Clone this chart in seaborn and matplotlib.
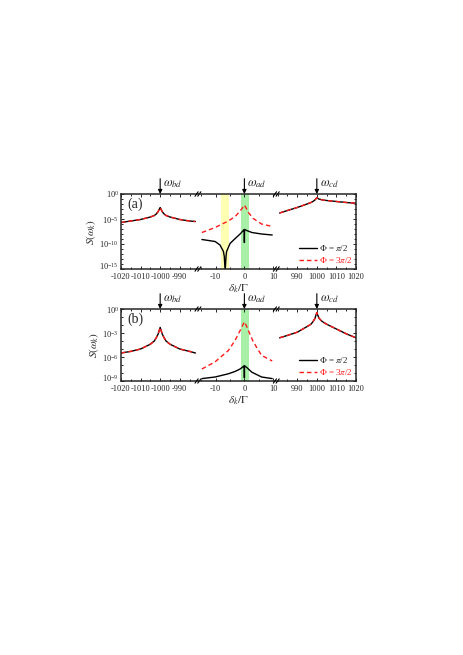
import numpy as np
import matplotlib
matplotlib.use("Agg")
import matplotlib.pyplot as plt
import matplotlib.transforms as mtransforms
import seaborn as sns
from matplotlib.ticker import FixedLocator, LogFormatterMathtext, NullFormatter

sns.set_style("ticks")
plt.rcParams["font.family"] = ["Liberation Serif", "DejaVu Serif"]
plt.rcParams["mathtext.fontset"] = "stix"
plt.rcParams["axes.unicode_minus"] = False

# ---- data: log10 S(w_k) ----
side_left_x = [-1020, -1015, -1010, -1005, -1003, -1002, -1001, -1000, -999, -998, -997, -995, -990, -985, -982]
side_right_x = [981, 985, 990, 995, 997, 998, 999, 1000, 1001, 1002, 1003, 1005, 1010, 1015, 1020]

a_left = [-5.7, -5.4, -5.1, -4.6, -4.3, -4.0, -3.5, -2.7, -3.5, -4.0, -4.3, -4.6, -5.1, -5.4, -5.5]
a_right = [-3.8, -3.3, -2.7, -2.0, -1.7, -1.5, -1.2, -0.75, -1.0, -1.1, -1.2, -1.3, -1.5, -1.7, -1.85]
b_left = [-5.5, -5.3, -5.0, -4.4, -4.0, -3.6, -3.1, -2.3, -3.1, -3.6, -4.0, -4.4, -5.0, -5.3, -5.5]
b_right = [-3.6, -3.3, -2.9, -2.2, -1.9, -1.6, -1.2, -0.45, -1.1, -1.4, -1.6, -1.9, -2.5, -3.1, -3.6]

mid_red_x = [-14.8, -10.2, -5.6, -3.2, -1.5, -0.7, 0, 0.7, 1.4, 3.1, 6.0, 9.7]
a_mid_red = [-7.7, -6.7, -5.4, -4.5, -3.4, -2.8, -2.2, -2.9, -3.7, -4.9, -6.0, -6.5]
b_mid_red = [-7.5, -6.6, -5.2, -3.9, -2.7, -2.1, -1.6, -2.1, -2.7, -4.1, -5.8, -6.5]

a_mid_blk_x = [-14.8, -10.2, -8.5, -7.3, -7.0, -6.7, -6.4, -6.2, -5.0, -3.2, -1.5, -0.05, 0, 0.05, 0.8, 2.6, 6.0, 9.7]
a_mid_blk = [-9.1, -9.5, -10.2, -11.5, -12.5, -15.5, -12.5, -11.5, -9.9, -8.9, -8.0, -7.1, -9.7, -7.1, -7.3, -7.7, -8.0, -8.2]
b_mid_blk_x = [-14.8, -10.2, -5.6, -3.2, -1.5, -0.05, 0, 0.05, 0.8, 2.6, 6.0, 9.7]
b_mid_blk = [-8.7, -8.5, -8.1, -7.8, -7.5, -7.1, -8.6, -7.1, -7.3, -7.9, -8.5, -8.7]

yellow_band = (-8.1, -5.4)
green_band = (-1.2, 1.6)

labels = [r"$\Phi$ = $\pi$/2", r"$\Phi$ = 3$\pi$/2"]

W, H = 464, 655
fig = plt.figure(figsize=(W / 100, H / 100), dpi=100)

left_px, right_px = 121, 356
seg_w = (right_px - left_px) / 3
xlims = [(-1020, -980), (-15.7, 11.6), (980, 1020)]
xticks = [[-1020, -1010, -1000, -990], [-10, 0, 10], [990, 1000, 1010, 1020]]
RED = "#ff1a1a"
FS = 6


def curve(ax, x, logy, color, dashed=False):
    sns.lineplot(x=x, y=np.power(10.0, logy), ax=ax, color=color, lw=1.0,
                 estimator=None, sort=False,
                 linestyle=(0, (3.2, 2.2)) if dashed else "-")


def panel(top_px, bot_px, left, right, mid_blk_x, mid_blk, mid_red, yexp, tag, bands):
    axs = []
    for i in range(3):
        ax = fig.add_axes([(left_px + i * seg_w) / W, 1 - bot_px / H,
                           seg_w / W, (bot_px - top_px) / H])
        ax.set_yscale("log")
        ax.set_xlim(*xlims[i])
        ax.set_ylim(10.0 ** yexp[-1], 1)
        axs.append(ax)
    a0, a1, a2 = axs

    for x0, x1, c in bands:
        a1.axvspan(x0, x1, color=c, lw=0, zorder=0)

    curve(a0, side_left_x, left, "k")
    curve(a0, side_left_x, left, RED, dashed=True)
    curve(a2, side_right_x, right, "k")
    curve(a2, side_right_x, right, RED, dashed=True)
    curve(a1, mid_blk_x, mid_blk, "k")
    curve(a1, mid_red_x, mid_red, RED, dashed=True)

    for i, ax in enumerate(axs):
        for s in ax.spines.values():
            s.set_linewidth(1.1)
        ax.set_xticks(xticks[i])
        ax.xaxis.set_minor_locator(FixedLocator(
            np.arange(xlims[i][0] - xlims[i][0] % 5, xlims[i][1] + 0.1, 5)))
        ax.tick_params(axis="x", which="both", direction="in", top=True,
                       labelsize=FS, pad=3, length=2.5, width=0.7)
        ax.tick_params(axis="x", which="minor", length=1.5)
        ax.set_xlabel("")
        ax.set_ylabel("")
        ax.yaxis.set_major_locator(FixedLocator([10.0 ** e for e in yexp]))
        ax.yaxis.set_minor_locator(FixedLocator([10.0 ** e for e in range(yexp[-1], 1)]))
        ax.yaxis.set_minor_formatter(NullFormatter())
        ax.tick_params(axis="y", which="both", direction="in", left=(i == 0),
                       right=(i == 2), labelleft=(i == 0), labelright=False,
                       labelsize=FS, pad=1.5, length=2.5, width=0.7)
        ax.tick_params(axis="y", which="minor", length=1.5)
    a0.yaxis.set_major_formatter(LogFormatterMathtext())
    fig.canvas.draw()
    lowest = a0.get_yticklabels()[-1]
    lowest.set_transform(lowest.get_transform() +
                         mtransforms.ScaledTranslation(0, 2.5 / 72, fig.dpi_scale_trans))
    a0.spines["right"].set_visible(False)
    a1.spines["left"].set_visible(False)
    a1.spines["right"].set_visible(False)
    a2.spines["left"].set_visible(False)

    # axis breaks
    for ax in (a1, a2):
        for yy in (0, 1):
            for dx in (-0.035, 0.0):
                ax.plot([dx - 0.02, dx + 0.02], [yy - 0.03, yy + 0.03],
                        transform=ax.transAxes, color="k", lw=0.8, clip_on=False)

    a0.set_ylabel(r"$S(\omega_k)$", fontsize=8, labelpad=1)
    a1.set_xlabel(r"$\delta_k/\Gamma$", fontsize=8, labelpad=1)
    a0.text(0.08, 0.86, tag, transform=a0.transAxes, fontsize=10, va="center")

    for ax, xc, name in ((a0, -1000, "bd"), (a1, 0, "ad"), (a2, 1000, "cd")):
        ax.annotate("", xy=(xc, 1.0), xycoords=("data", "axes fraction"),
                    xytext=(0, 11), textcoords="offset points",
                    arrowprops=dict(arrowstyle="-|>", color="k", lw=0.8,
                                    mutation_scale=6, shrinkA=0, shrinkB=0))
        ax.annotate(r"$\omega_{%s}$" % name, xy=(xc, 1.0),
                    xycoords=("data", "axes fraction"), xytext=(2, 3),
                    textcoords="offset points", fontsize=9, va="bottom")

    leg = a2.legend(a2.lines[:2], labels, loc="lower right", frameon=False,
                    fontsize=6.5, handlelength=2.0, handletextpad=0.2,
                    labelspacing=0.25, borderaxespad=0.3, borderpad=0.1)
    leg.get_texts()[1].set_color(RED)
    return axs


panel(194, 269, a_left, a_right, a_mid_blk_x, a_mid_blk, a_mid_red,
      [0, -5, -10, -15], "(a)",
      [(yellow_band[0], yellow_band[1], "#ffffb4"), (green_band[0], green_band[1], "#a8f0a8")])
panel(309, 381, b_left, b_right, b_mid_blk_x, b_mid_blk, b_mid_red,
      [0, -3, -6, -9], "(b)",
      [(green_band[0], green_band[1], "#a8f0a8")])

fig.savefig("out.png", dpi=100)
